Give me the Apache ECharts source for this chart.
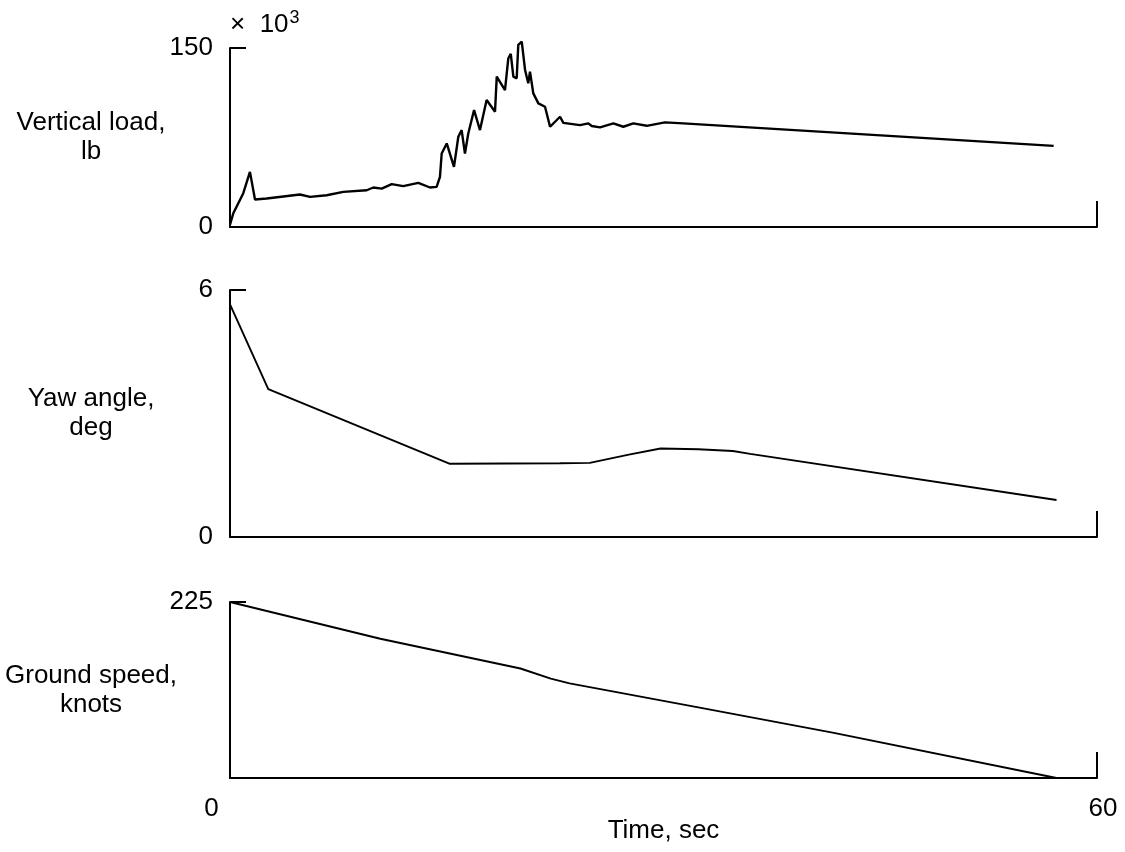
<!DOCTYPE html>
<html>
<head>
<meta charset="utf-8">
<script src="https://cdn.jsdelivr.net/npm/echarts@6/dist/echarts.min.js"></script>
<style>
  html, body { margin: 0; padding: 0; background: #fff; }
  #chart { width: 1125px; height: 852px; }
</style>
</head>
<body>
<div id="chart"></div>
<script>
// vertical load, thousands of lb
const loadTime = [0, 0.23, 0.92, 1.38, 1.73, 2.54, 4.84, 5.54, 6.69, 7.84, 9.46, 9.92, 10.5, 11.19, 11.99, 13.03, 13.84, 14.3,
  14.53, 14.65, 15.0, 15.5, 15.8, 16.03, 16.26, 16.49, 16.89, 17.3, 17.76, 18.34, 18.46, 19.03, 19.26, 19.43, 19.61, 19.84,
  19.95, 20.19, 20.42, 20.64, 20.76, 20.99, 21.34, 21.8, 22.15, 22.84, 23.07, 24.22, 24.8, 25.03, 25.61, 26.53, 27.22,
  27.91, 28.84, 30.1, 31.37, 57.0];
const loadValue = [2, 11.5, 28.3, 46.2, 23, 23.9, 27.2, 25.2, 26.6, 29.4, 30.8, 33.1, 32.2, 35.9, 34.2, 37, 33.1, 33.6,
  42, 61.6, 70, 50.4, 75.6, 81.2, 61.6, 78.4, 98, 81.2, 106.4, 96.6, 126, 114.8, 141.4, 145, 126, 124.6,
  152.6, 155.4, 131.6, 120.4, 130.2, 112, 103.6, 100.8, 84, 92.4, 87.3, 85.4, 86.8, 84.6, 83.5, 86.8, 84,
  86.8, 84.8, 87.7, 86.8, 68];

// yaw angle, deg
const yawTime = [0, 2.65, 15.18, 22.84, 24.9, 27.6, 29.8, 32.4, 34.8, 36.0, 57.2];
const yawValue = [5.65, 3.59, 1.78, 1.79, 1.8, 2.0, 2.15, 2.13, 2.09, 2.02, 0.9];

// ground speed, knots
const speedTime = [0, 10.4, 20.1, 22.2, 23.5, 32.5, 41.7, 57.2];
const speedValue = [225, 178, 140, 127, 121, 90, 58, 0];

const yMax = [150, 6, 225];
const panelNames = ['Vertical load,\nlb', 'Yaw angle,\ndeg', 'Ground speed,\nknots'];

const FONT = 'Liberation Sans, Arial, Helvetica, sans-serif';
const pair = (t, v) => t.map((x, i) => [x, v[i]]);

const chart = echarts.init(document.getElementById('chart'));

const grids = [
  { left: 230, right: 28, top: 48, height: 179, outerBoundsMode: 'none' },
  { left: 230, right: 28, top: 290, height: 247, outerBoundsMode: 'none' },
  { left: 230, right: 28, top: 602, height: 176, outerBoundsMode: 'none' },
];

const xAxes = grids.map((g, i) => ({
  type: 'value',
  gridIndex: i,
  min: 0,
  max: 60,
  interval: 60,
  axisLine: { show: true, lineStyle: { color: '#000', width: 2 } },
  axisTick: { show: true, inside: true, length: 26, lineStyle: { color: '#000', width: 2 } },
  splitLine: { show: false },
  axisLabel: {
    show: i === 2,
    margin: 18,
    color: '#000',
    fontFamily: FONT,
    fontSize: 26,
    formatter: (v) => (v === 0 ? '{z|0}' : '{s|60}'),
    rich: {
      z: { fontFamily: FONT, fontSize: 26, color: '#000', padding: [0, 37, 0, 0] },
      s: { fontFamily: FONT, fontSize: 26, color: '#000', padding: [0, 0, 0, 12] },
    },
  },
  name: i === 2 ? 'Time, sec' : '',
  nameLocation: 'middle',
  nameGap: 40,
  nameMoveOverlap: false,
  nameTextStyle: { color: '#000', fontFamily: FONT, fontSize: 26 },
}));

const yAxes = grids.map((g, i) => ({
  type: 'value',
  gridIndex: i,
  position: 'left',
  min: 0,
  max: yMax[i],
  interval: yMax[i],
  axisLine: { show: true, lineStyle: { color: '#000', width: 2 } },
  axisTick: { show: true, inside: true, length: 16, lineStyle: { color: '#000', width: 2 } },
  splitLine: { show: false },
  axisLabel: {
    margin: 17,
    color: '#000',
    fontFamily: FONT,
    fontSize: 26,
    formatter: (v) => (i === 2 && v === 0 ? '' : String(v)),
  },
  name: panelNames[i],
  nameLocation: 'middle',
  nameRotate: 0,
  nameGap: 139,
  nameMoveOverlap: false,
  nameTextStyle: { color: '#000', fontFamily: FONT, fontSize: 26, lineHeight: 29, align: 'center' },
}));

// "x 10^3" multiplier above the top panel
yAxes.push({
  type: 'value',
  gridIndex: 0,
  position: 'left',
  min: 0,
  max: 150,
  axisLine: { show: false },
  axisTick: { show: false },
  axisLabel: { show: false },
  splitLine: { show: false },
  name: '{a|×  10}{b|3}',
  nameLocation: 'end',
  nameGap: 8,
  nameMoveOverlap: false,
  nameTextStyle: {
    align: 'left',
    rich: {
      a: { fontFamily: FONT, fontSize: 26, color: '#000' },
      b: { fontFamily: FONT, fontSize: 18, color: '#000', padding: [0, 0, 13, 1] },
    },
  },
});

const lineStyleOf = (w) => ({ color: '#000', width: w });

chart.setOption({
  animation: false,
  backgroundColor: '#fff',
  grid: grids,
  xAxis: xAxes,
  yAxis: yAxes,
  series: [
    { type: 'line', xAxisIndex: 0, yAxisIndex: 0, data: pair(loadTime, loadValue), showSymbol: false, clip: false, lineStyle: lineStyleOf(2.4) },
    { type: 'line', xAxisIndex: 1, yAxisIndex: 1, data: pair(yawTime, yawValue), showSymbol: false, clip: false, lineStyle: lineStyleOf(1.9) },
    { type: 'line', xAxisIndex: 2, yAxisIndex: 2, data: pair(speedTime, speedValue), showSymbol: false, clip: false, lineStyle: lineStyleOf(1.9) },
  ],
});
</script>
</body>
</html>
